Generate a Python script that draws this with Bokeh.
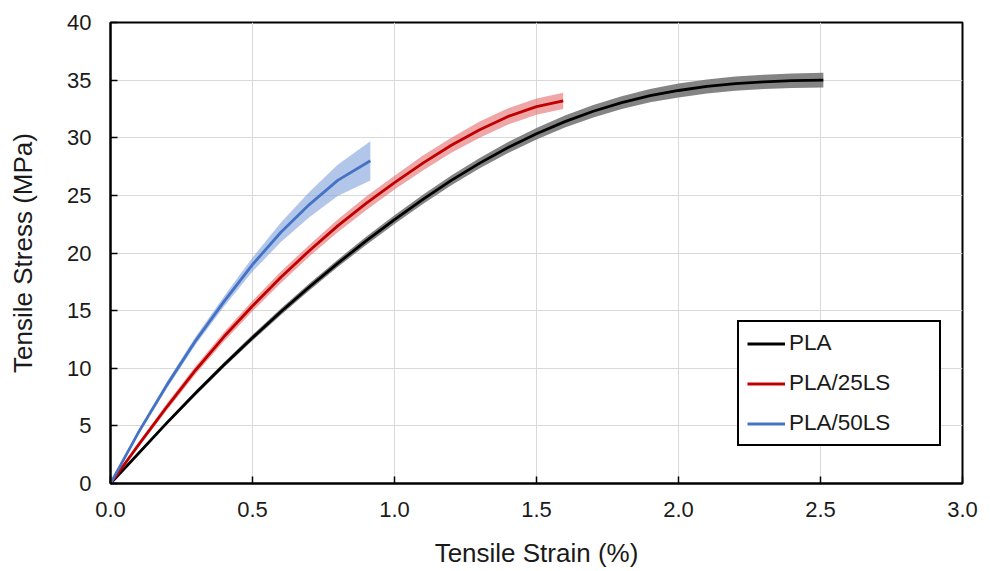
from bokeh.plotting import figure
from bokeh.models import Range1d, FixedTicker, Legend, LegendItem, NumeralTickFormatter
from bokeh.embed import file_html
from bokeh.resources import INLINE

# ---- data ----
pla_strain = [0.0, 0.1, 0.2, 0.3, 0.4, 0.5, 0.6, 0.7, 0.8, 0.9, 1.0, 1.1, 1.2, 1.3,
              1.4, 1.5, 1.6, 1.7, 1.8, 1.9, 2.0, 2.1, 2.2, 2.3, 2.4, 2.51]
pla_stress = [0.0, 2.65, 5.3, 7.85, 10.3, 12.65, 14.9, 17.05, 19.1, 21.05, 22.9, 24.65, 26.3, 27.8,
              29.15, 30.35, 31.4, 32.3, 33.05, 33.65, 34.1, 34.45, 34.7, 34.85, 34.95, 35.0]
pla_sd = [0.0, 0.1, 0.15, 0.2, 0.22, 0.25, 0.28, 0.3, 0.32, 0.35, 0.38, 0.4, 0.42, 0.45,
          0.48, 0.5, 0.52, 0.55, 0.56, 0.58, 0.6, 0.6, 0.62, 0.62, 0.63, 0.65]

ls25_strain = [0.0, 0.1, 0.2, 0.3, 0.4, 0.5, 0.6, 0.7, 0.8, 0.9, 1.0, 1.1, 1.2, 1.3,
               1.4, 1.5, 1.594]
ls25_stress = [0.0, 3.4, 6.7, 9.85, 12.75, 15.4, 17.9, 20.2, 22.35, 24.3, 26.1, 27.8, 29.35, 30.7,
               31.85, 32.7, 33.2]
ls25_sd = [0.0, 0.2, 0.3, 0.35, 0.4, 0.45, 0.5, 0.5, 0.55, 0.6, 0.6, 0.65, 0.65, 0.7,
           0.7, 0.7, 0.7]

ls50_strain = [0.0, 0.1, 0.2, 0.3, 0.4, 0.5, 0.6, 0.7, 0.8, 0.915]
ls50_stress = [0.0, 4.5, 8.6, 12.4, 15.8, 19.0, 21.8, 24.2, 26.3, 28.0]
ls50_sd = [0.0, 0.2, 0.3, 0.35, 0.45, 0.6, 0.85, 1.1, 1.35, 1.7]

x_ticks = [0.0, 0.5, 1.0, 1.5, 2.0, 2.5, 3.0]
y_ticks = [0, 5, 10, 15, 20, 25, 30, 35, 40]

series = [
    ("PLA", pla_strain, pla_stress, pla_sd, "#000000", "#777777", 0.9),
    ("PLA/25LS", ls25_strain, ls25_stress, ls25_sd, "#C00000", "#e46a6a", 0.6),
    ("PLA/50LS", ls50_strain, ls50_stress, ls50_sd, "#4472C4", "#7fa0dc", 0.6),
]

FONT = "Liberation Sans"

p = figure(width=990, height=571, output_backend="svg", toolbar_location=None,
           x_range=Range1d(0, 3), y_range=Range1d(0, 40),
           min_border_left=110, min_border_right=28, min_border_top=22, min_border_bottom=88)

items = []
for name, xs, ys, sd, lc, bc, ba in series:
    lower = [y - s for y, s in zip(ys, sd)]
    upper = [y + s for y, s in zip(ys, sd)]
    p.varea(x=xs, y1=lower, y2=upper, fill_color=bc, fill_alpha=ba)
for name, xs, ys, sd, lc, bc, ba in series:
    r = p.line(xs, ys, line_color=lc, line_width=2.8, line_join="round")
    items.append(LegendItem(label=name, renderers=[r]))

legend = Legend(items=items, location=(627, 37),
                border_line_color="black", border_line_width=2, border_line_alpha=1,
                padding=8, spacing=14, margin=0,
                glyph_width=38, glyph_height=25, label_height=25,
                label_standoff=4, label_width=142,
                label_text_font=FONT, label_text_font_size="22.5px",
                label_text_color="#1a1a1a", background_fill_alpha=1)
p.add_layout(legend, "center")

for ax in (p.xaxis[0], p.yaxis[0]):
    ax.axis_line_color = "black"
    ax.axis_line_width = 2
    ax.major_tick_in = 7
    ax.major_tick_out = 0
    ax.major_tick_line_color = "black"
    ax.major_tick_line_width = 1.5
    ax.minor_tick_line_color = None
    ax.major_label_text_font = FONT
    ax.major_label_text_font_size = "22px"
    ax.major_label_text_color = "#1a1a1a"
    ax.axis_label_text_font = FONT
    ax.axis_label_text_font_size = "26px"
    ax.axis_label_text_font_style = "normal"
    ax.axis_label_text_color = "#1a1a1a"

p.xaxis.ticker = FixedTicker(ticks=x_ticks)
p.yaxis.ticker = FixedTicker(ticks=y_ticks)
p.xaxis.formatter = NumeralTickFormatter(format="0.0")
p.xaxis.axis_label = "Tensile Strain (%)"
p.yaxis.axis_label = "Tensile Stress (MPa)"
p.xaxis.major_label_standoff = 18
p.yaxis.major_label_standoff = 19
p.xaxis.axis_label_standoff = 18
p.yaxis.axis_label_standoff = 26

p.xgrid.ticker = FixedTicker(ticks=x_ticks)
p.ygrid.ticker = FixedTicker(ticks=y_ticks)
p.grid.grid_line_color = "#d9d9d9"
p.grid.grid_line_width = 1

p.outline_line_color = "black"
p.outline_line_width = 2
p.outline_line_alpha = 1

open("out.html", "w").write(file_html(p, INLINE))
